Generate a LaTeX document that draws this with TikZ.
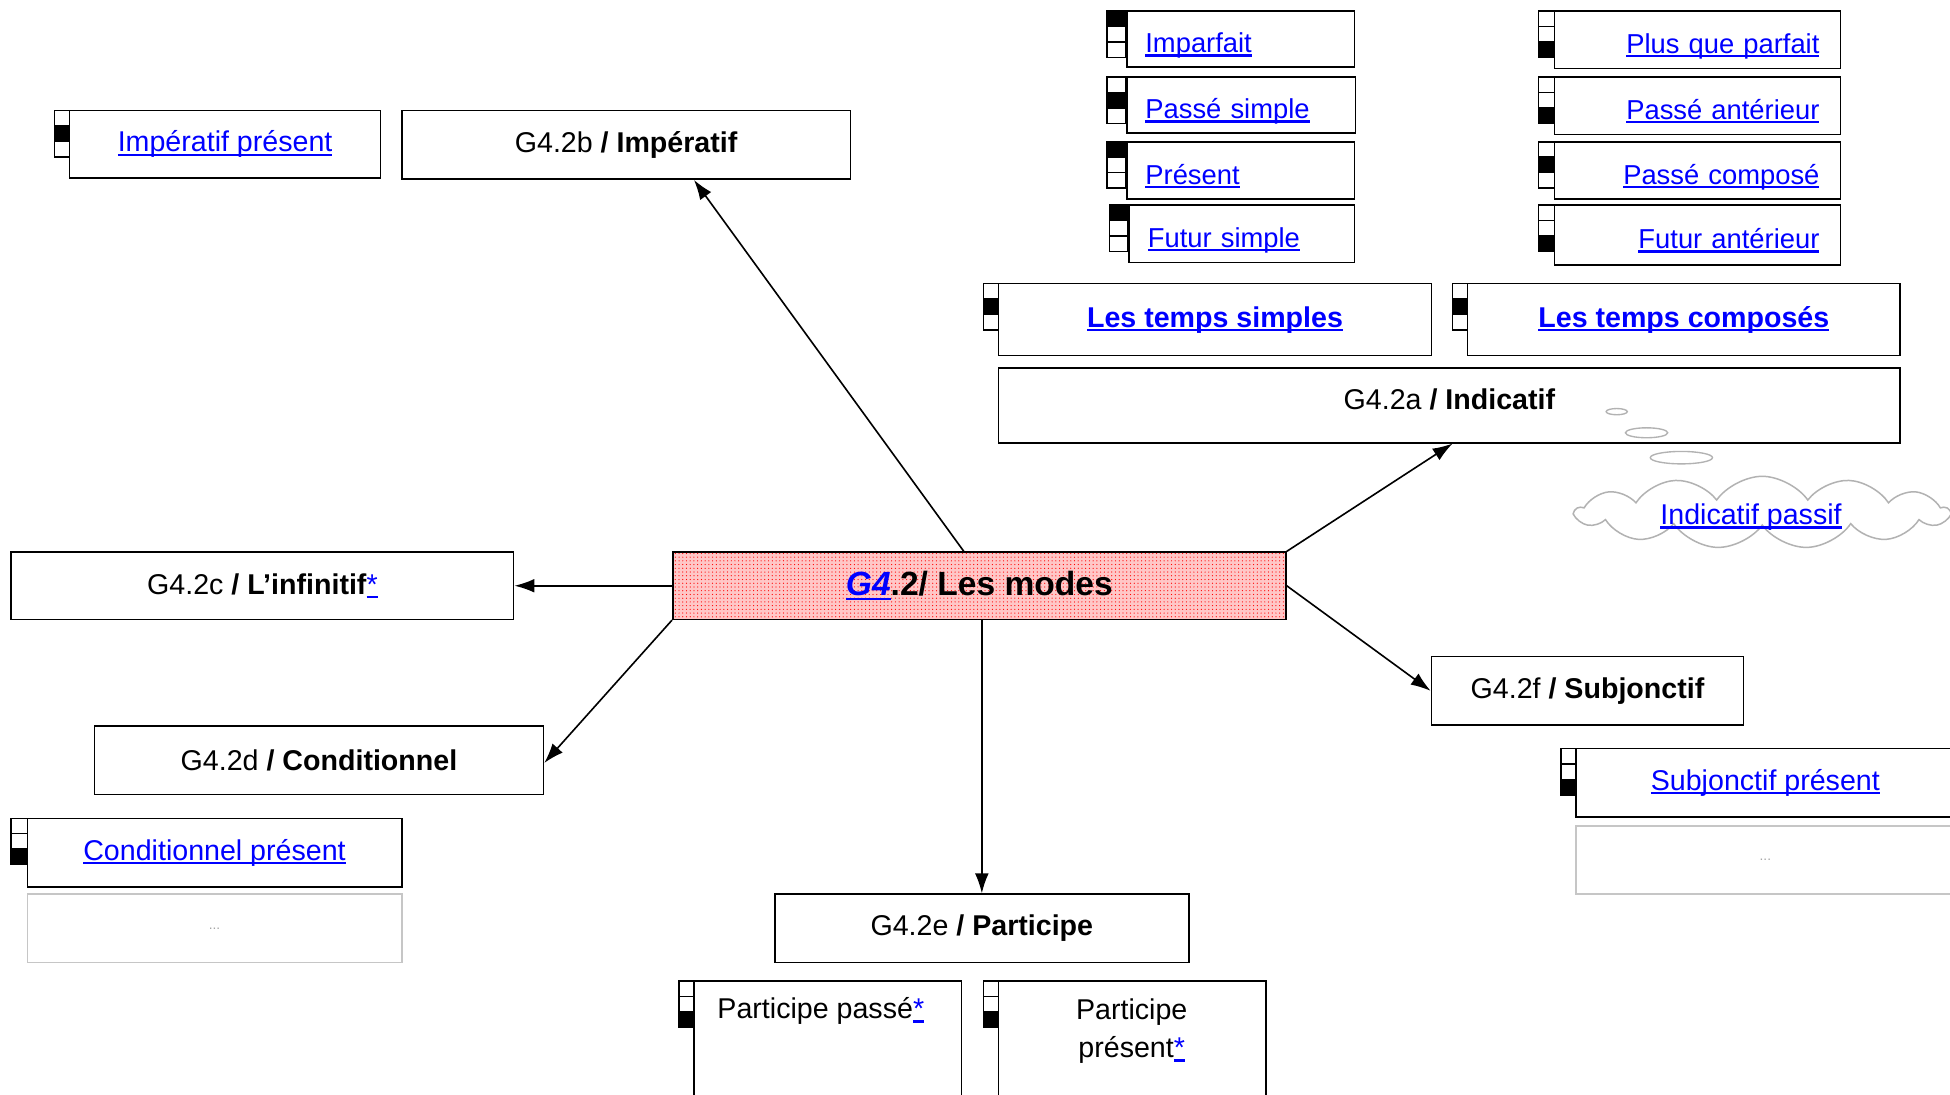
\documentclass[tikz,border=0pt]{standalone}
\usepackage{fontspec}
\setmainfont{Liberation Sans}
\usetikzlibrary{shapes.geometric,shapes.symbols,patterns,arrows.meta}
\newcommand{\lnk}[1]{\textcolor{blue}{\setbox0=\hbox{#1}\rlap{\rule[-0.14em]{\wd0}{0.08em}}\box0}}
\newcommand{\chkbox}[4]{%
  \foreach \i in {0,1,2}{\draw[line width=1.2pt,fill=white] (#1,#2+\i*12.4) rectangle ++(#3,12.4);}
  \fill (#1,#2+#4*12.4) rectangle ++(#3,12.4);}
\tikzset{
  box/.style={draw, line width=1.3pt, rectangle, inner sep=0pt, fill=white,
    font=\fontsize{23}{28}\selectfont},
  lbox/.style={box, align=left, inner xsep=15pt, text height=24pt, text depth=2pt,
    font=\fontsize{22}{27}\selectfont},
  rbox/.style={box, align=right, inner xsep=17pt, text height=24pt, text depth=2pt,
    font=\fontsize{22}{27}\selectfont},
  gbox/.style={draw=gray!45, line width=1.3pt, rectangle, inner sep=0pt,
    font=\fontsize{11}{13}\selectfont, text=gray!70},
  arr/.style={-{Latex[length=16pt,width=11pt]}, line width=1.3pt},
  bub/.style={ellipse, draw=gray!60, line width=1.1pt, inner sep=0pt},
}
\begin{document}
\begin{tikzpicture}[x=1pt,y=-1pt]
\clip (0,0) rectangle (1568,880);
\fill[white] (0,0) rectangle (1568,880);

% top-left
\chkbox{44}{89}{12}{1}
\node[box, minimum width=250pt, minimum height=54pt] (imppres) at (181,116) {\lnk{Impératif présent}};
\node[box, minimum width=361pt, minimum height=55pt] (imp) at (503.5,116.5) {G4.2b \textbf{/ Impératif}};

% temps simples column
\chkbox{890}{9}{15}{0}
\node[lbox, text width=153pt, minimum height=45pt] (imparf) at (997.5,31.5) {\lnk{Imparfait}};
\chkbox{890}{62}{15}{1}
\node[lbox, text width=154pt, minimum height=45pt] (pssimple) at (998,84.5) {\lnk{Passé simple}};
\chkbox{890}{114}{15}{0}
\node[lbox, text width=153pt, minimum height=46pt] (present) at (997.5,137) {\lnk{Présent}};
\chkbox{892}{165}{15}{0}
\node[lbox, text width=151pt, minimum height=46pt] (futsimple) at (998.5,188) {\lnk{Futur simple}};

% temps composes column
\chkbox{1237}{9}{13}{2}
\node[rbox, text width=196pt, minimum height=46pt] (pqp) at (1365,32) {\lnk{Plus que parfait}};
\chkbox{1237}{62}{13}{2}
\node[rbox, text width=196pt, minimum height=46pt] (pant) at (1365,85) {\lnk{Passé antérieur}};
\chkbox{1237}{114}{13}{1}
\node[rbox, text width=196pt, minimum height=46pt] (pcomp) at (1365,137) {\lnk{Passé composé}};
\chkbox{1237}{165}{13}{2}
\node[rbox, text width=196pt, minimum height=48pt] (fant) at (1365,189) {\lnk{Futur antérieur}};

% temps simples / composes
\chkbox{791}{228}{12}{1}
\node[box, minimum width=348pt, minimum height=58pt] (tsimples) at (977,257) {\lnk{\textbf{Les temps simples}}};
\chkbox{1168}{228}{12}{1}
\node[box, minimum width=348pt, minimum height=58pt] (tcomp) at (1354,257) {\lnk{\textbf{Les temps composés}}};

% indicatif
\node[box, minimum width=725pt, minimum height=60pt] (ind) at (1165.5,326) {};
\node[font=\fontsize{23}{28}\selectfont, inner sep=0pt] (indt) at (1165.5,321) {G4.2a \textbf{/ Indicatif}};

% thought bubbles and cloud
\node[bub, minimum width=17pt, minimum height=5pt] (b1) at (1300,331) {};
\node[bub, minimum width=34pt, minimum height=8pt] (b2) at (1324,348) {};
\node[bub, minimum width=50pt, minimum height=10pt] (b3) at (1352,368) {};
\node[cloud, cloud puffs=13, cloud puff arc=110, cloud ignores aspect, draw=gray!60, line width=1.2pt,
  minimum width=300pt, minimum height=58pt, inner sep=0pt, fill=white] (cloud) at (1417,412) {};
\node[font=\fontsize{23}{28}\selectfont, inner sep=0pt] (cloudt) at (1408,416) {\lnk{Indicatif passif}};

% center
\node[box, minimum width=493pt, minimum height=54pt, fill=red!22,
  postaction={pattern=dots, pattern color=red}] (center) at (787.5,471) {};
\node[font=\fontsize{27}{32}\selectfont\bfseries, inner sep=0pt] (centert) at (center) {\lnk{\textit{G4}}.2/ Les modes};

% left side
\node[box, minimum width=404pt, minimum height=54pt] (inf) at (211,471) {G4.2c \textbf{/ L'infinitif}\lnk{*}};
\node[box, minimum width=361pt, minimum height=55pt] (cond) at (256.5,611.5) {G4.2d \textbf{/ Conditionnel}};
\chkbox{9}{658}{13}{2}
\node[box, minimum width=301pt, minimum height=55pt] (condpres) at (172.5,685.5) {\lnk{Conditionnel présent}};
\node[gbox, minimum width=301pt, minimum height=55pt] (gray1) at (172.5,746.5) {...};

% participe
\node[box, minimum width=333pt, minimum height=55pt] (part) at (789.5,746.5) {G4.2e \textbf{/ Participe}};
\chkbox{546}{789}{12}{2}
\node[box, minimum width=215pt, minimum height=112pt] (ppasse) at (665.5,845) {};
\node[font=\fontsize{23}{28}\selectfont, inner sep=0pt] (ppasset) at (660,813) {Participe passé\lnk{*}};
\chkbox{791}{789}{12}{2}
\node[box, minimum width=215pt, minimum height=112pt] (ppres) at (910.5,845) {};
\node[font=\fontsize{23}{31}\selectfont, inner sep=0pt, align=center] (ppreset) at (910,829) {Participe\\présent\lnk{*}};

% subjonctif
\node[box, minimum width=251pt, minimum height=55pt] (subj) at (1276.5,555.5) {G4.2f \textbf{/ Subjonctif}};
\chkbox{1255}{602}{12}{2}
\node[box, minimum width=305pt, minimum height=55pt] (subjpres) at (1419.5,629.5) {\lnk{Subjonctif présent}};
\node[gbox, minimum width=305pt, minimum height=55pt] (gray2) at (1419.5,691.5) {...};

% arrows
\draw[arr] ([xshift=-12.5pt]center.north) -- ([xshift=54.5pt]imp.south);
\draw[arr] (center.west) -- (inf.east);
\draw[arr] (center.south west) -- ([yshift=-2pt]cond.east);
\draw[arr] (center.south -| part.north) -- (part.north);
\draw[arr] (center.north east) -- ([xshift=2.5pt]ind.south);
\draw[arr] (center.east) -- (subj.west);
\end{tikzpicture}
\end{document}
